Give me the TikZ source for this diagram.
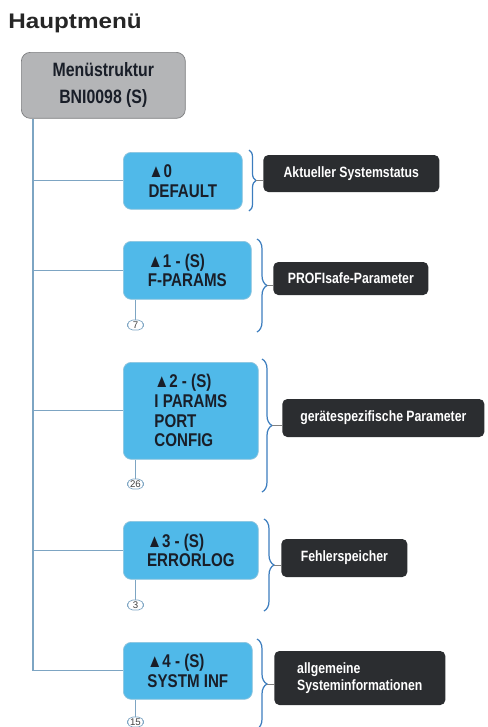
\documentclass[tikz,border=0pt]{standalone}
\usepackage{fontspec}
\setmainfont{Liberation Sans}
\newfontfamily\narrowsans[FakeStretch=0.82]{Liberation Sans}
\newfontfamily\widesans[FakeStretch=1.15]{Liberation Sans}
\usetikzlibrary{positioning, calc, decorations.pathreplacing}
\definecolor{itemblue}{RGB}{80, 185, 233}
\definecolor{menugray}{RGB}{180, 181, 183}
\definecolor{menuline}{RGB}{125, 126, 128}
\definecolor{infoblack}{RGB}{43, 45, 48}
\definecolor{treeline}{RGB}{125, 165, 195}
\definecolor{braceblue}{RGB}{60, 125, 190}
\definecolor{inktext}{RGB}{25, 30, 40}

\begin{document}
\begin{tikzpicture}[x=0.02cm, y=-0.02cm,
    title/.style={font=\widesans\bfseries\fontsize{12}{15}\selectfont, text=black!85,
                  inner sep=0pt, anchor=base west},
    menu/.style={rectangle, rounded corners=0.18cm, draw=menuline, fill=menugray,
                 minimum width=3.28cm, minimum height=1.32cm, align=center,
                 text=inktext, font=\narrowsans\bfseries\fontsize{11}{15.3}\selectfont},
    item/.style={rectangle, rounded corners=0.16cm, draw=itemblue!85!black!60,
                 fill=itemblue, anchor=north west, inner xsep=0.15cm, align=left,
                 text=inktext, font=\narrowsans\bfseries\fontsize{10.5}{11.2}\selectfont},
    info/.style={rectangle, rounded corners=0.1cm, fill=infoblack, text=white,
                 anchor=west, align=center,
                 font=\narrowsans\bfseries\fontsize{8.5}{9.6}\selectfont},
    count/.style={rectangle, rounded corners=3pt, draw=treeline, fill=white,
                  minimum width=0.32cm, minimum height=0.2cm, inner sep=0.5pt,
                  font=\fontsize{5.5}{6}\selectfont, text=black!75},
    tree/.style={draw=treeline, line width=0.6pt},
    bracket/.style={decorate, decoration={brace, amplitude=0.2cm},
                    draw=braceblue, line width=0.7pt},
    stub/.style={draw=black!50, line width=0.4pt}
]
\useasboundingbox (0,0) rectangle (487,727);

\node[title] (head) at (8,28) {Hauptmenü};
\node[menu, anchor=north west] (menu) at (21,52) {Menüstruktur\\BNI0098 (S)};

% Menu items
\node[item, minimum width=2.38cm, minimum height=1.14cm] (default) at (123,152) {▲0\\DEFAULT};
\node[item, minimum width=2.56cm, minimum height=1.16cm] (fparams) at (123,241) {▲1 - (S)\\F-PARAMS};
\node[item, minimum width=2.7cm,  minimum height=1.94cm] (iparams) at (123,362) {▲2 - (S)\\I PARAMS\\PORT\\CONFIG};
\node[item, minimum width=2.7cm,  minimum height=1.16cm] (errlog)  at (123,521) {▲3 - (S)\\ERRORLOG};
\node[item, minimum width=2.58cm, minimum height=1.14cm] (sysinf)  at (123,642) {▲4 - (S)\\SYSTM INF};

% Sub-entry counters
\coordinate (c1) at ([xshift=0.25cm]fparams.south west);
\coordinate (c2) at ([xshift=0.25cm]iparams.south west);
\coordinate (c3) at ([xshift=0.25cm]errlog.south west);
\coordinate (c4) at ([xshift=0.25cm]sysinf.south west);
\node[count, below=0.4cm of c1] (n7)  {7};
\node[count, below=0.38cm of c2] (n26) {26};
\node[count, below=0.4cm of c3] (n3)  {3};
\node[count, below=0.34cm of c4] (n15) {15};

% Descriptions
\node[info, minimum width=3.52cm, minimum height=0.74cm] (status)  at (263,173.5) {Aktueller Systemstatus};
\node[info, minimum width=3.1cm,  minimum height=0.66cm] (psafe)   at (273,278.5) {PROFIsafe-Parameter};
\node[info, minimum width=4.04cm, minimum height=0.76cm] (geraet)  at (282,418)   {gerätespezifische Parameter};
\node[info, minimum width=2.52cm, minimum height=0.76cm] (fehler)  at (281,558)   {Fehlerspeicher};
\node[info, minimum width=3.42cm, minimum height=1.08cm, align=left] (allg) at (274,678) {allgemeine\\Systeminformationen};

% Tree lines
\coordinate (root) at ([xshift=0.24cm]menu.south west);
\draw[tree] (root) |- (sysinf.west);
\draw[tree] (root |- default.west) -- (default.west);
\draw[tree] (root |- fparams.west) -- (fparams.west);
\draw[tree] (root |- iparams.west) -- (iparams.west);
\draw[tree] (root |- errlog.west)  -- (errlog.west);
\draw[tree] (c1) -- (n7);
\draw[tree] (c2) -- (n26);
\draw[tree] (c3) -- (n3);
\draw[tree] (c4) -- (n15);

% Braces
\draw[bracket, decoration={amplitude=0.14cm}] (249,150) -- (249,211);
\draw[bracket] (257,239) -- (257,332);
\draw[bracket] (262,359) -- (262,492);
\draw[bracket] (264,519) -- (264,611);
\draw[bracket] (257,639) -- (257,729);
\coordinate (t0) at (256,180.5);
\coordinate (t1) at (267,285.5);
\coordinate (t2) at (272,425.5);
\coordinate (t3) at (274,565);
\coordinate (t4) at (267,684);
\draw[stub] (t0) -- (t0 -| status.west);
\draw[stub] (t1) -- (t1 -| psafe.west);
\draw[stub] (t2) -- (t2 -| geraet.west);
\draw[stub] (t3) -- (t3 -| fehler.west);
\draw[stub] (t4) -- (t4 -| allg.west);

\end{tikzpicture}
\end{document}
